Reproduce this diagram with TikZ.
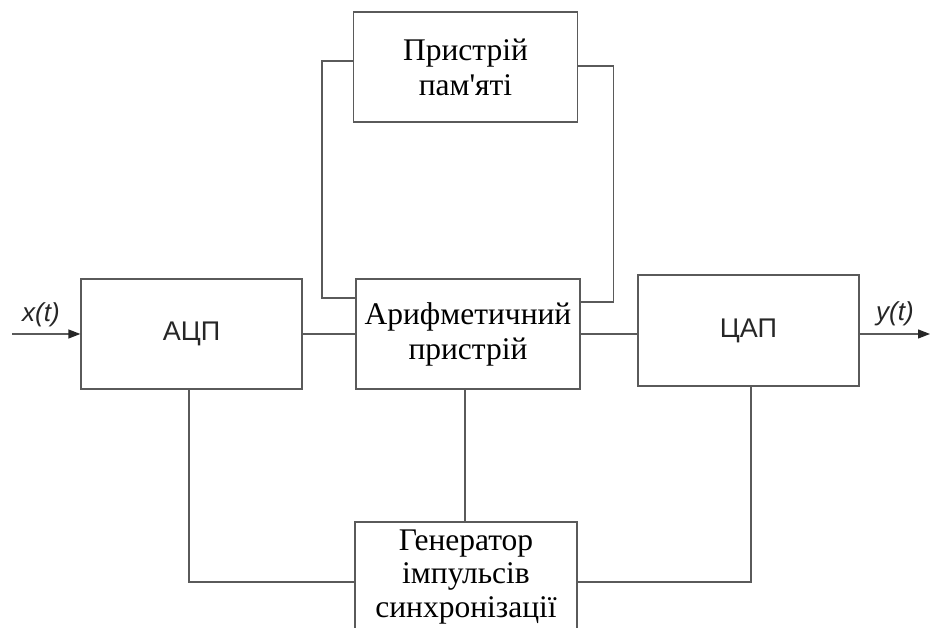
\documentclass[tikz,border=0pt]{standalone}
\usepackage{fontspec}
\setmainfont{Liberation Serif}[Ligatures=TeXOff]
\newfontfamily\labelsans{Liberation Sans}
\usetikzlibrary{arrows.meta,calc}
\definecolor{linegray}{HTML}{5A5A5A}
\tikzset{
  block/.style={draw=linegray, line width=1.3pt, fill=white, inner sep=0pt},
  link/.style={draw=linegray, line width=1.3pt},
  sig/.style={link, -{Triangle[length=12pt,width=9pt,fill=black!85,color=black!85]}},
  serifText/.style={font=\fontsize{31.5}{35}\selectfont, align=center, text=black},
  sansText/.style={font=\labelsans\fontsize{27}{32}\selectfont, text=black!85},
  sigText/.style={font=\labelsans\itshape\fontsize{26}{30}\selectfont, text=black!85}
}
\begin{document}
\begin{tikzpicture}[x=1pt,y=1pt]
\useasboundingbox (0,0) rectangle (930,628);
\clip (0,0) rectangle (930,628);
\fill[white] (0,0) rectangle (930,628);

% blocks
\node[block, minimum width=224pt, minimum height=110pt] (mem) at (465.5,561) {};
\node[block, minimum width=221pt, minimum height=110pt] (adc) at (191.5,294) {};
\node[block, minimum width=224pt, minimum height=110pt] (ari) at (468,294) {};
\node[block, minimum width=221pt, minimum height=111pt] (dac) at (748.5,297.5) {};
\node[block, minimum width=222pt, minimum height=120pt] (gen) at (466,46) {};

% block captions
\node[serifText] (memtxt) at (mem.center) {Пристрій\\пам'яті};
\node[sansText] (adctxt) at (adc.center) {АЦП};
\node[serifText] (aritxt) at (ari.center) {Арифметичний\\пристрій};
\node[sansText] (dactxt) at (dac.center) {ЦАП};
\node[serifText, font=\fontsize{31.5}{33.5}\selectfont] (gentxt) at (466,51) {Генератор\\імпульсів\\синхронізації};

% input and output signals
\coordinate (xin) at (12,294);
\coordinate (yout) at (930,294);
\draw[sig] (xin) -- (adc.west |- xin);
\draw[sig] (dac.east |- yout) -- (yout);
\node[sigText] (xlab) at (41,313) {x(t)};
\node[sigText] (ylab) at (895,314) {y(t)};

% data path
\draw[link] (adc.east) -- (ari.west);
\draw[link] (ari.east) -- (ari.east -| dac.west);

% memory loop
\draw[link] ($(mem.west)+(0,6)$) -- ++(-31,0) |- ($(ari.west)+(0,36)$);
\draw[link] ($(mem.east)+(0,1)$) -- ++(35,0) |- ($(ari.east)+(0,32)$);

% clock distribution
\draw[link] ($(adc.south)+(-2.5,0)$) |- (gen.west);
\draw[link] ($(ari.south)+(-3,0)$) -- ($(gen.north)+(-1,0)$);
\draw[link] ($(dac.south)+(2.5,0)$) |- (gen.east);
\end{tikzpicture}
\end{document}
